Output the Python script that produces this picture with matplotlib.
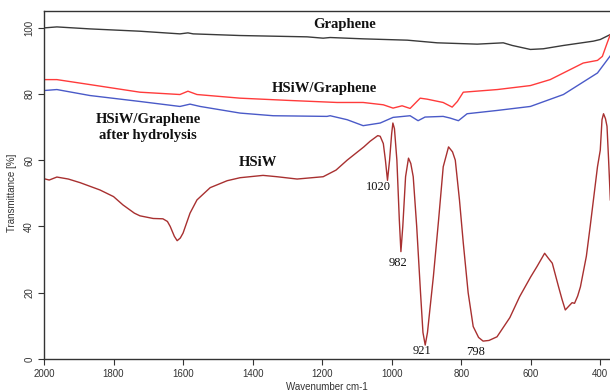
import matplotlib
matplotlib.use("Agg")
import matplotlib.pyplot as plt
import numpy as np

# FTIR spectra, wavenumber [cm-1] vs transmittance [%]
graphene_wn = [2000, 1963, 1868, 1724, 1609, 1586, 1571, 1436, 1243, 1197, 1177,
               1082, 955, 869, 754, 679, 653, 601, 564, 506, 420, 400, 371]
graphene_t = [99.9, 100.2, 99.6, 98.9, 98.1, 98.4, 98.1, 97.6, 97.2, 96.8, 97.0,
              96.6, 96.2, 95.4, 95.0, 95.4, 94.6, 93.4, 93.6, 94.6, 95.9, 96.4, 97.9]

hsiw_g_wn = [2000, 1963, 1868, 1724, 1609, 1586, 1560, 1436, 1292, 1157, 1082,
             1024, 996, 970, 947, 918, 898, 852, 826, 811, 794, 696, 601, 544,
             506, 449, 408, 394, 380, 371]
hsiw_g_t = [84.3, 84.3, 82.8, 80.5, 79.8, 80.8, 79.8, 78.7, 78.0, 77.4, 77.4,
            76.7, 75.7, 76.4, 75.6, 78.7, 78.4, 77.4, 76.0, 77.7, 80.5, 81.3, 82.5, 84.3,
            86.3, 89.3, 90.1, 91.3, 95.4, 97.9]

hydro_wn = [2000, 1963, 1868, 1724, 1609, 1580, 1551, 1436, 1341, 1186, 1177,
            1128, 1082, 1033, 996, 947, 924, 904, 852, 832, 808, 783, 696, 601,
            506, 408, 371]
hydro_t = [81.0, 81.3, 79.5, 77.7, 76.2, 76.9, 76.2, 74.2, 73.4, 73.2, 73.4,
           72.2, 70.4, 71.2, 72.9, 73.4, 71.9, 73.0, 73.2, 72.7, 71.9, 74.0, 75.0, 76.2,
           79.8, 86.3, 91.5]

hsiw_wn = [2000, 1985, 1963, 1930, 1896, 1839, 1800, 1773, 1740, 1724, 1686,
           1658, 1645, 1637, 1625, 1617, 1608, 1600, 1580, 1560, 1522, 1473, 1436,
           1370, 1330, 1272, 1197, 1160, 1128, 1080, 1062, 1040, 1033, 1024, 1018,
           1012, 1006, 1000, 996.5, 992, 985, 978, 973.4, 968, 960, 951.6, 945,
           938, 928, 917, 910, 903.5, 897, 890, 880, 865, 851.7, 836.4, 825, 817,
           805, 794, 780, 765.5, 750, 737, 720, 697, 660, 632, 600, 582, 560, 550,
           538, 520, 510, 500.6, 490, 481, 474, 465, 457, 440, 429, 415, 408, 400,
           395, 390.6, 385, 380.6, 376, 371]
hsiw_t = [54.4, 54.0, 54.9, 54.3, 53.2, 51.0, 49.0, 46.5, 44.0, 43.2, 42.4,
          42.3, 41.5, 40.0, 37.0, 35.7, 36.5, 38.0, 44.0, 48.0, 51.7, 53.8, 54.7,
          55.4, 55.0, 54.3, 55.0, 57.0, 60.0, 64.0, 65.7, 67.4, 67.2, 65.0, 60.0,
          53.9, 60.0, 68.0, 71.2, 69.5, 60.0, 42.0, 32.4, 40.0, 55.0, 60.6, 59.0,
          55.0, 40.0, 20.0, 8.0, 4.2, 8.0, 15.0, 24.9, 42.0, 58.0, 64.0, 62.5, 60.0,
          48.0, 35.0, 20.0, 9.8, 6.5, 5.4, 5.6, 6.7, 12.5, 18.8, 24.8, 27.9, 31.9, 30.5,
          28.9, 21.8, 18.0, 14.8, 16.0, 17.0, 16.8, 19.0, 21.8, 31.0, 40.0, 52.0, 58.0, 63.0,
          72.2, 74.0, 72.5, 70.2, 60.0, 48.0]

band_labels = ["1020", "982", "921", "798"]
band_pos = [(1037, 52.0), (982, 29.0), (913, 2.3), (760, 2.0)]

fig = plt.figure(figsize=(6.1, 3.91), dpi=100)
ax = fig.add_axes([44 / 610, 32 / 391, 566 / 610, 348 / 391])

ax.plot(graphene_wn, graphene_t, color="#3a3a3a", lw=1.0)
ax.plot(hsiw_g_wn, hsiw_g_t, color="#ff3b3b", lw=1.0)
ax.plot(hydro_wn, hydro_t, color="#4a5ac8", lw=1.0)
ax.plot(hsiw_wn, hsiw_t, color="#a83030", lw=1.0)

ax.set_xlim(2000, 372)
ax.set_ylim(0, 105)
ax.set_xticks(np.arange(2000, 399, -200))
ax.set_yticks(np.arange(0, 101, 20))

for side in ["left", "top", "bottom"]:
    ax.spines[side].set_color("#333333")
    ax.spines[side].set_linewidth(1.0)
ax.spines["right"].set_visible(False)

ax.tick_params(direction="out", length=4, width=0.8, colors="#333333",
               labelsize=7, pad=3)
for lab in ax.get_yticklabels():
    lab.set_rotation(90)
    lab.set_va("center")
for lab in ax.get_xticklabels() + ax.get_yticklabels():
    lab.set_fontfamily("Liberation Sans")

ax.set_xlabel("Wavenumber cm-1", fontsize=7, family="Liberation Sans",
              color="#333333", labelpad=2)
ax.set_ylabel("Transmittance [%]", fontsize=7, family="Liberation Sans",
              color="#333333")
ax.yaxis.set_label_coords(-0.048, 0.477)

serif = dict(family="Liberation Serif", fontweight="bold", fontsize=10.5,
             ha="center", va="center", color="#111111")
ax.text(1135, 100.8, "Graphene", **serif)
ax.text(1195, 81.5, "HSiW/Graphene", **serif)
ax.text(1700, 69.8, "HSiW/Graphene\nafter hydrolysis", linespacing=1.25, **serif)
ax.text(1385, 59.2, "HSiW", **serif)

for text, (x, y) in zip(band_labels, band_pos):
    ax.text(x, y, text, family="Liberation Serif", fontsize=9, ha="center",
            va="center", color="#111111")

fig.savefig("out.png", dpi=100)
